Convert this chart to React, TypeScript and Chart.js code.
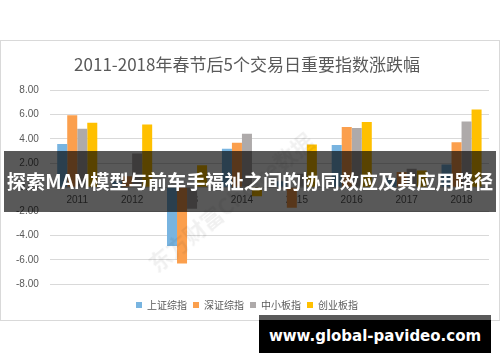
import React, { useEffect, useRef } from "react";
import { Chart, registerables } from "chart.js";

Chart.register(...registerables);

const TITLE = "2011-2018年春节后5个交易日重要指数涨跌幅";
const YEARS = ["2011", "2012", "2013", "2014", "2015", "2016", "2017", "2018"];
const SERIES_NAMES = ["上证综指", "深证综指", "中小板指", "创业板指"];
const SHANGHAI = [3.56, 0.49, -4.86, 3.17, 0.5, 3.49, 0.76, 1.88];
const SHENZHEN = [5.94, 0.9, -6.3, 3.67, -1.7, 4.97, 1.25, 3.72];
const SME = [4.83, 2.78, -1.78, 4.42, 1.11, 4.89, 1.53, 5.44];
const CHINEXT = [5.33, 5.19, 1.81, -0.75, 3.53, 5.39, 1.39, 6.42];
const COLORS = ["#78b4e0", "#fb9f4d", "#aeaaaa", "#ffc000"];
const BANNER = "探索MAM模型与前车手福祉之间的协同效应及其应用路径";
const SITE = "www.global-pavideo.com";
const WATERMARK = "东方财富Choice数据";

export default function App() {
  const ref = useRef<HTMLCanvasElement | null>(null);

  useEffect(() => {
    if (!ref.current) return;
    const values = [SHANGHAI, SHENZHEN, SME, CHINEXT];
    const chart = new Chart(ref.current, {
      type: "bar",
      data: {
        labels: YEARS,
        datasets: SERIES_NAMES.map((name, i) => ({
          label: name,
          data: values[i],
          backgroundColor: COLORS[i],
          borderWidth: 0,
          categoryPercentage: 0.73,
          barPercentage: 1.0,
        })),
      },
      options: {
        responsive: false,
        animation: false,
        devicePixelRatio: 1,
        layout: { padding: { left: 4, right: 10, top: 0, bottom: 0 } },
        plugins: {
          title: {
            display: true,
            text: TITLE,
            color: "#595959",
            font: { family: "'Noto Sans CJK SC', sans-serif", size: 17, weight: "normal", lineHeight: 1.2 },
            padding: { top: 13, bottom: 16 },
          },
          legend: {
            position: "bottom",
            title: { display: true, text: "", padding: 0, font: { size: 10, lineHeight: 1 } },
            labels: {
              boxWidth: 6,
              boxHeight: 6,
              padding: 6,
              color: "#595959",
              font: { family: "'Noto Sans CJK SC', sans-serif", size: 10 },
            },
          },
          tooltip: { enabled: false },
        },
        scales: {
          x: {
            position: { y: 0 },
            grid: { display: false, drawTicks: false },
            border: { display: true, color: "#d9d9d9" },
            ticks: {
              color: "#595959",
              padding: 7,
              font: { family: "'Liberation Sans', sans-serif", size: 10 },
            },
          },
          y: {
            min: -8,
            max: 8,
            grid: { color: "#d9d9d9", drawTicks: false },
            border: { display: false },
            ticks: {
              stepSize: 2,
              padding: 11,
              color: "#595959",
              font: { family: "'Liberation Sans', sans-serif", size: 10 },
              callback: (v: any) => Number(v).toFixed(2),
            },
          },
        },
      },
    });
    return () => chart.destroy();
  }, []);

  return (
    <div style={{ position: "fixed", left: 0, top: 0, width: 500, height: 362, background: "#fff", overflow: "hidden" }}>
      <div
        style={{
          position: "absolute",
          left: 0,
          top: 40,
          width: 498,
          height: 279,
          border: "1px solid #d9d9d9",
        }}
      >
        <canvas ref={ref} width={498} height={279} style={{ display: "block", width: 498, height: 279 }} />
      </div>
      <div
        style={{
          position: "absolute",
          left: 110,
          top: 185,
          width: 240,
          textAlign: "center",
          transform: "rotate(-39deg)",
          color: "rgba(0,0,0,0.06)",
          font: "bold 22px 'Noto Sans CJK SC', sans-serif",
          whiteSpace: "nowrap",
          pointerEvents: "none",
        }}
      >
        {WATERMARK}
      </div>
      <div
        style={{
          position: "absolute",
          left: 4,
          top: 151,
          width: 492,
          height: 61,
          background: "rgba(0,0,0,0.65)",
          overflow: "hidden",
        }}
      >
        <div
          style={{
            position: "absolute",
            left: -20,
            right: -20,
            top: 17,
            textAlign: "center",
            color: "#fff",
            font: "bold 19.2px 'Noto Sans CJK SC', sans-serif",
            lineHeight: "26px",
            whiteSpace: "nowrap",
          }}
        >
          {BANNER}
        </div>
      </div>
      <div
        style={{
          position: "absolute",
          left: 259,
          top: 315,
          width: 232,
          height: 38,
          background: "#000",
        }}
      >
        <div style={{ position: "absolute", left: 0, top: 0, width: 232, height: 5, background: "#5a5a5a" }} />
        <div
          style={{
            position: "absolute",
            left: 0,
            width: 232,
            top: 9,
            textAlign: "center",
            color: "#fff",
            font: "bold 15px 'DejaVu Sans', sans-serif",
            lineHeight: "24px",
            whiteSpace: "nowrap",
          }}
        >
          {SITE}
        </div>
      </div>
    </div>
  );
}
